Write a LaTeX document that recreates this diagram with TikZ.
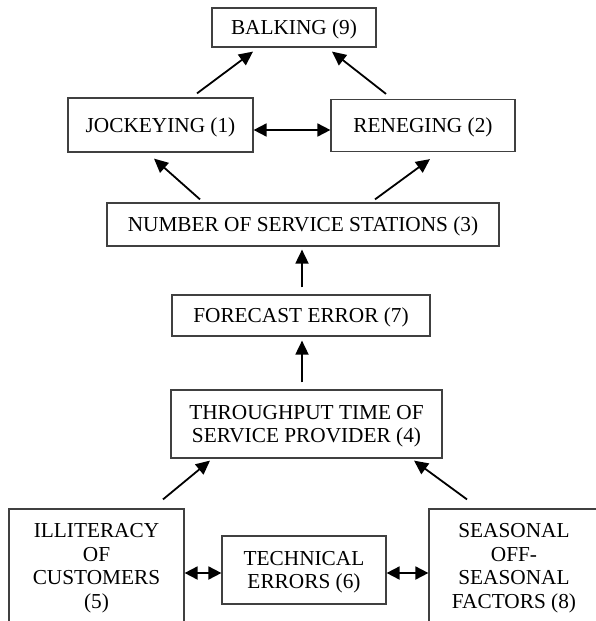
\documentclass[tikz,border=0pt]{standalone}
\usepackage{fontspec}
\setmainfont{Liberation Serif}
\usetikzlibrary{calc}
\usetikzlibrary{arrows.meta}
\tikzset{
	factor/.style={draw=black!75, line width=1.2pt, align=center, inner sep=0pt, text depth=0pt,
		font=\fontsize{21.3}{23.5}\selectfont},
	link/.style={line width=1.8pt, -{Triangle[length=14pt,width=13pt]}},
	twoway/.style={line width=1.8pt, {Triangle[length=13pt,width=13pt]}-{Triangle[length=13pt,width=13pt]}},
}
\begin{document}
\begin{tikzpicture}[x=1pt,y=-1pt]
		% page frame, bottom boxes run off the edge
		\useasboundingbox (0,0) rectangle (596,621);
		\clip (0,0) rectangle (596,621);
		\node[factor, minimum width=164pt, minimum height=39pt] (balk) at (294,27.5) {BALKING (9)};
		\node[factor, minimum width=185pt, minimum height=54pt] (jock) at (160.5,125) {JOCKEYING (1)};
		\node[factor, minimum width=184pt, minimum height=52pt] (ren) at (423,125.5) {RENEGING (2)};
		\node[factor, minimum width=392pt, minimum height=43pt] (nss) at (303,224.5) {NUMBER OF SERVICE STATIONS (3)};
		\node[factor, minimum width=258pt, minimum height=41pt] (fe) at (301,315.5) {FORECAST ERROR (7)};
		\node[factor, minimum width=271pt, minimum height=68pt] (ttsp) at (306.5,424) {THROUGHPUT TIME OF\\SERVICE PROVIDER (4)};
		\node[factor, minimum width=175pt, minimum height=114pt] (illit) at (96.5,566) {ILLITERACY\\OF\\CUSTOMERS\\(5)};
		\node[factor, minimum width=164pt, minimum height=68pt] (tech) at (304,570) {TECHNICAL\\ERRORS (6)};
		\node[factor, minimum width=170pt, minimum height=114pt] (seas) at (514,566) {SEASONAL\\OFF-\\SEASONAL\\FACTORS (8)};
		% top triangle
		\draw[link] ($ (jock.north) + (36.5,-4) $) -- ($ (balk.south) + (-41,4) $);
		\draw[link] ($ (ren.north) + (-37,-5) $) -- ($ (balk.south) + (38,4) $);
		\draw[twoway] ($ (jock.east) + (0,5) $) -- ($ (ren.west) + (0,4.5) $);
		\draw[link] ($ (nss.north) + (-103,-3) $) -- ($ (jock.south) + (-6.5,6) $);
		\draw[link] ($ (nss.north) + (72,-3) $) -- ($ (ren.south) + (7,7) $);
		% middle chain
		\draw[link] ($ (fe.north) + (1,-7) $) -- ($ (nss.south) + (-1,3) $);
		\draw[link] ($ (ttsp.north) + (-4.5,-7) $) -- ($ (fe.south) + (1,4) $);
		% bottom row
		\draw[link] ($ (illit.north) + (66.5,-9) $) -- ($ (ttsp.south) + (-96.5,2) $);
		\draw[link] ($ (seas.north) + (-47,-9) $) -- ($ (ttsp.south) + (107.5,2) $);
		\draw[twoway] ($ (illit.east) + (0,7) $) -- ($ (tech.west) + (0,3) $);
		\draw[twoway] ($ (tech.east) + (0,3) $) -- ($ (seas.west) + (0,7) $);
\end{tikzpicture}
\end{document}
